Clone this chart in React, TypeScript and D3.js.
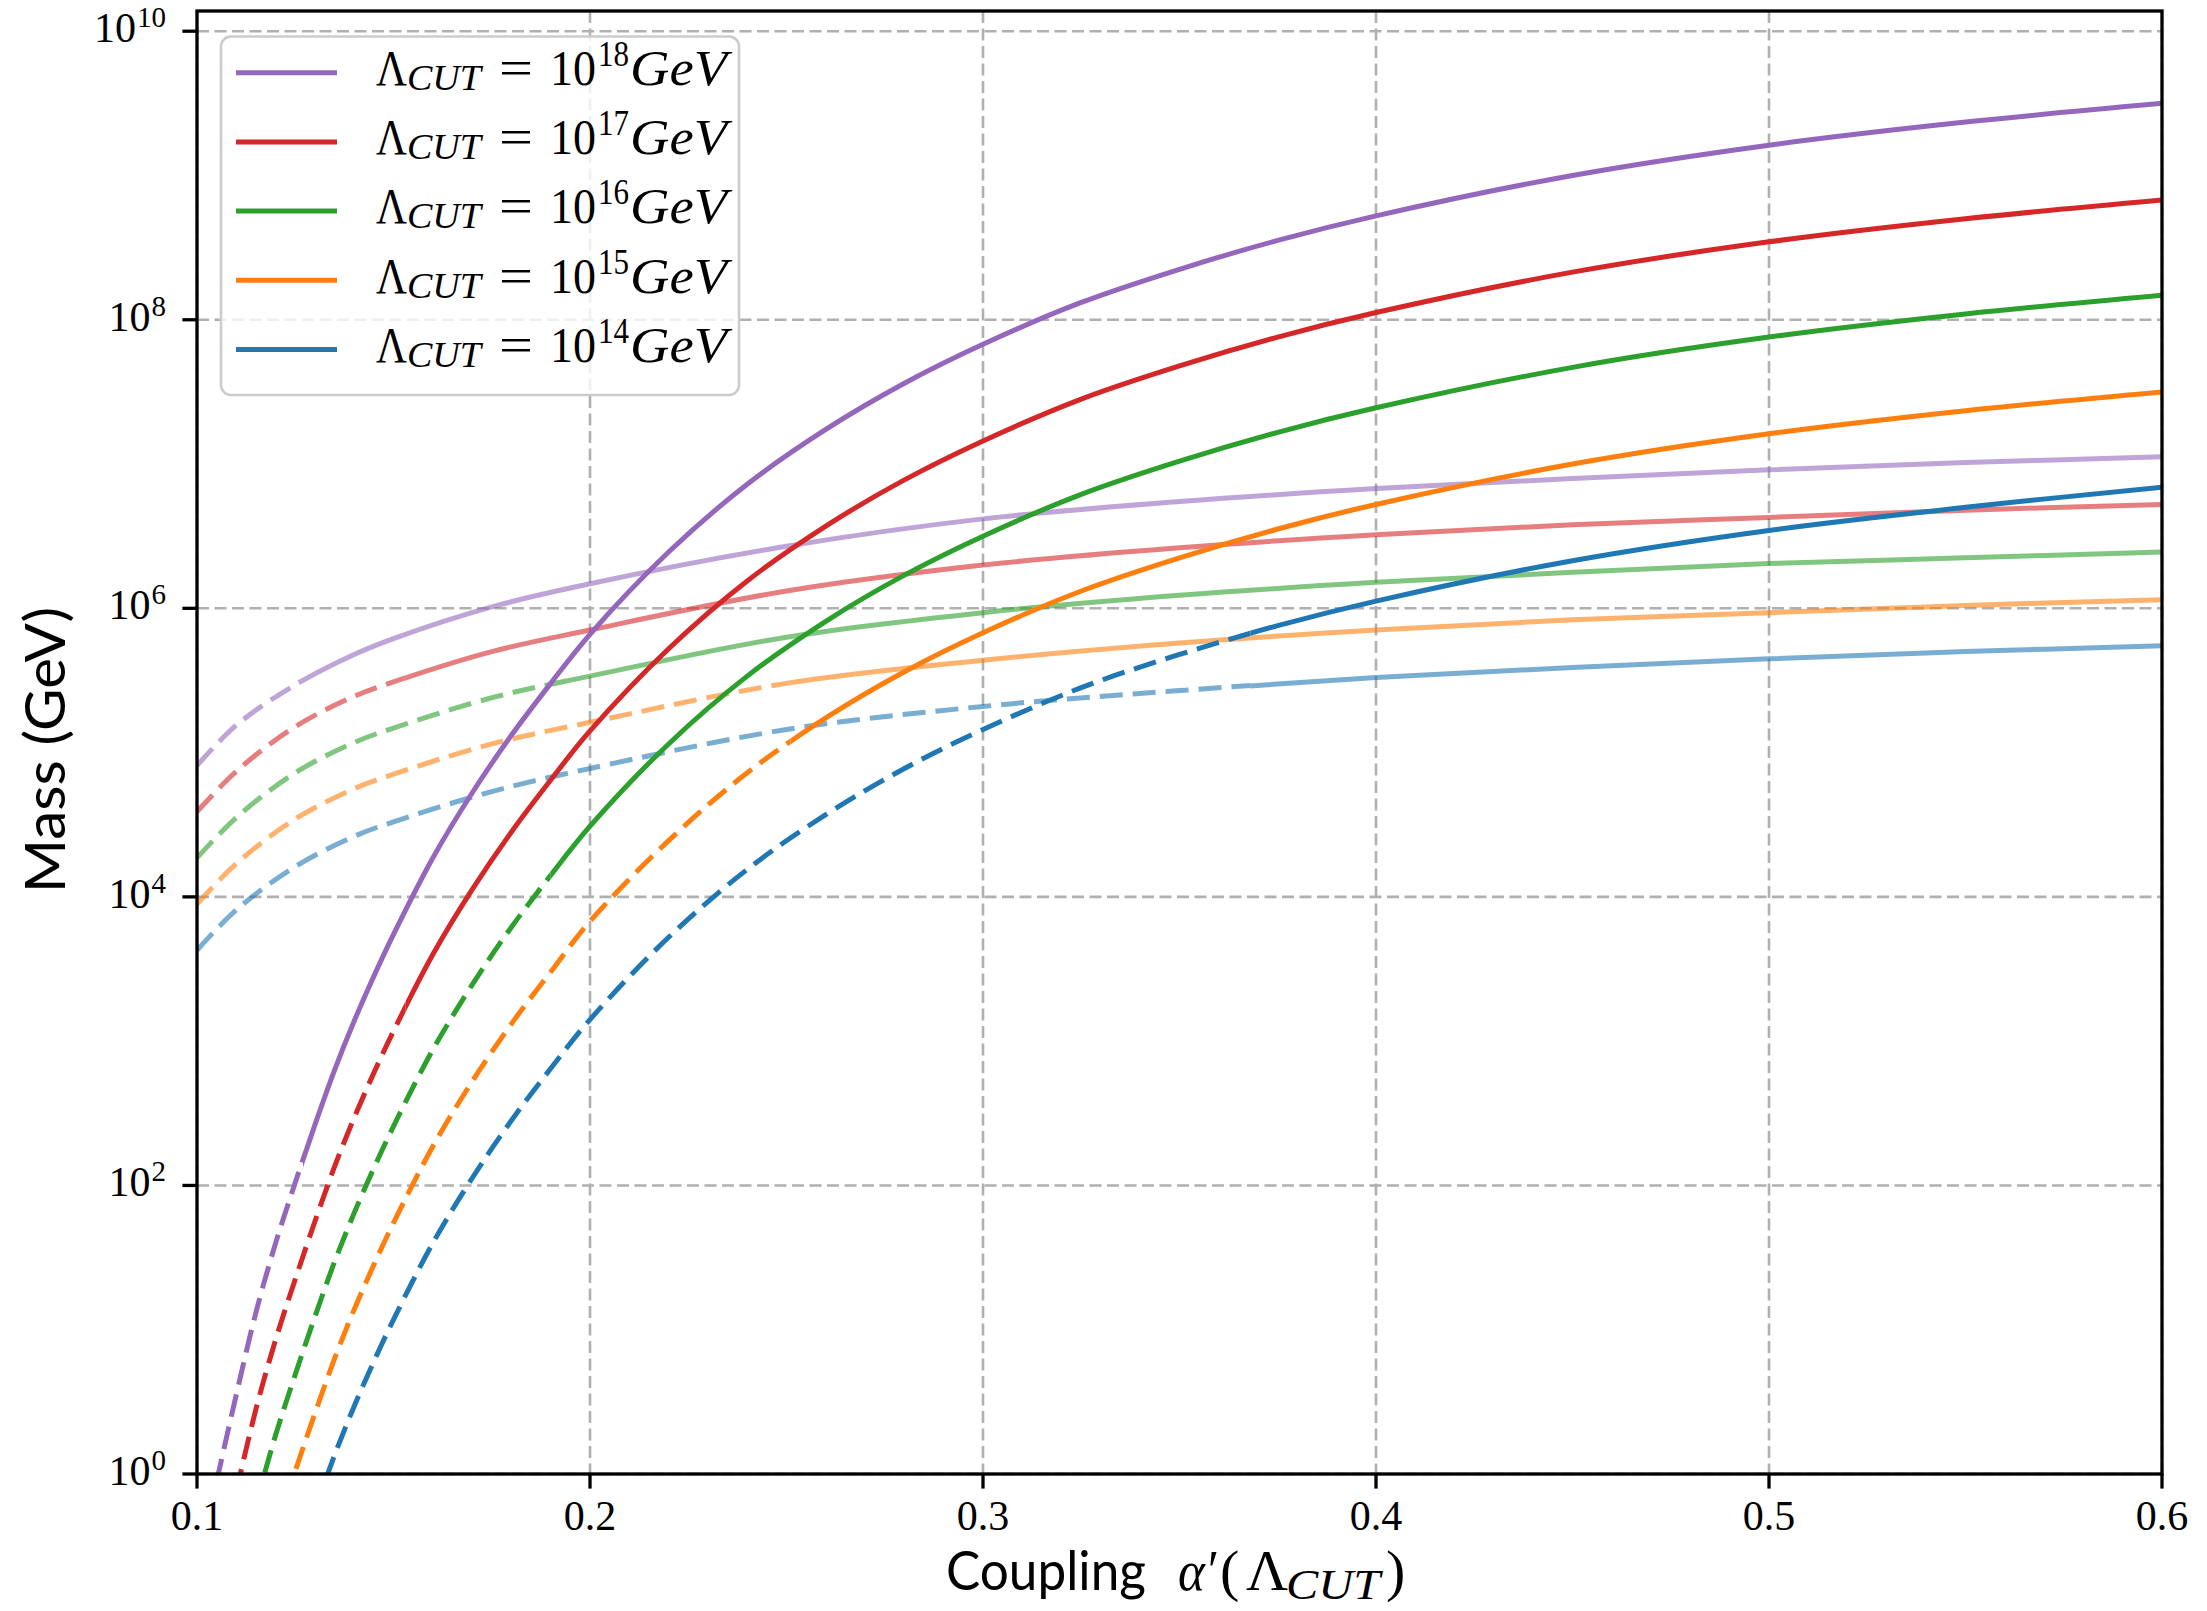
import React from 'react';
import * as d3 from 'd3';

// ---- data ----
const cutExponents = [18, 17, 16, 15, 14];
const seriesColors = ['#9467bd', '#d62728', '#2ca02c', '#ff7f0e', '#1f77b4'];
// coupling above which both curves of a series are drawn solid
const solidFromAlpha = [0.127, 0.153, 0.19, 0.251, 0.368];

// steep family (full opacity): log10(Mass/GeV)
const alphaSteep = [0.105, 0.11, 0.115, 0.12, 0.125, 0.13, 0.135, 0.14, 0.145, 0.15, 0.16, 0.17, 0.18, 0.19, 0.2, 0.22, 0.24, 0.26, 0.28, 0.3, 0.325, 0.35, 0.375, 0.4, 0.45, 0.5, 0.55, 0.6];
const logMassSteep18 = [-0.05, 0.55, 1.12, 1.6, 2.02, 2.42, 2.8, 3.14, 3.45, 3.74, 4.27, 4.72, 5.12, 5.48, 5.82, 6.39, 6.86, 7.24, 7.56, 7.83, 8.12, 8.35, 8.55, 8.72, 9.0, 9.21, 9.37, 9.5];
const logMassSteep17 = [null, -0.12, 0.45, 0.93, 1.35, 1.75, 2.13, 2.47, 2.78, 3.07, 3.6, 4.05, 4.45, 4.81, 5.15, 5.72, 6.19, 6.57, 6.89, 7.16, 7.45, 7.68, 7.88, 8.05, 8.33, 8.54, 8.7, 8.83];
const logMassSteep16 = [null, null, -0.21, 0.27, 0.69, 1.09, 1.47, 1.81, 2.12, 2.41, 2.94, 3.39, 3.79, 4.15, 4.49, 5.06, 5.53, 5.91, 6.23, 6.5, 6.79, 7.02, 7.22, 7.39, 7.67, 7.88, 8.04, 8.17];
const logMassSteep15 = [null, null, null, -0.4, 0.02, 0.42, 0.8, 1.14, 1.45, 1.74, 2.27, 2.72, 3.12, 3.48, 3.83, 4.39, 4.86, 5.24, 5.56, 5.83, 6.12, 6.35, 6.55, 6.72, 7.0, 7.21, 7.37, 7.5];
const logMassSteep14 = [null, null, null, null, null, -0.25, 0.13, 0.47, 0.78, 1.07, 1.6, 2.05, 2.45, 2.81, 3.15, 3.72, 4.19, 4.57, 4.89, 5.16, 5.45, 5.68, 5.88, 6.05, 6.33, 6.54, 6.7, 6.84];

// shallow family (translucent): log10(Mass/GeV)
const alphaShallow = [0.1, 0.11, 0.125, 0.14, 0.15, 0.175, 0.2, 0.25, 0.3, 0.35, 0.4, 0.45, 0.5, 0.55, 0.6];
const logMassShallow18 = [4.91, 5.19, 5.47, 5.68, 5.79, 6.01, 6.17, 6.43, 6.62, 6.74, 6.83, 6.9, 6.96, 7.01, 7.05];
const logMassShallow17 = [4.59, 4.87, 5.18, 5.39, 5.49, 5.7, 5.85, 6.12, 6.3, 6.42, 6.51, 6.58, 6.63, 6.68, 6.72];
const logMassShallow16 = [4.27, 4.55, 4.86, 5.07, 5.17, 5.38, 5.53, 5.8, 5.97, 6.09, 6.18, 6.25, 6.31, 6.35, 6.39];
const logMassShallow15 = [3.95, 4.23, 4.54, 4.75, 4.85, 5.06, 5.21, 5.48, 5.64, 5.76, 5.85, 5.92, 5.97, 6.02, 6.06];
const logMassShallow14 = [3.63, 3.91, 4.21, 4.42, 4.52, 4.73, 4.89, 5.16, 5.32, 5.43, 5.52, 5.59, 5.65, 5.7, 5.74];

const xTicks = [0.1, 0.2, 0.3, 0.4, 0.5, 0.6];
const yTickExponents = [0, 2, 4, 6, 8, 10];

const steepSeries = [logMassSteep18, logMassSteep17, logMassSteep16, logMassSteep15, logMassSteep14];
const shallowSeries = [logMassShallow18, logMassShallow17, logMassShallow16, logMassShallow15, logMassShallow14];

const SERIF = "'Liberation Serif', 'DejaVu Serif', serif";
const SANS = "Lato, 'Open Sans', 'DejaVu Sans', sans-serif";

type PieceProps = {
  x: number; y: number; text: string; size: number; family?: string;
  italic?: boolean; tl?: number; anchor?: string; rotate?: number;
};
function Piece({ x, y, text, size, family = SERIF, italic, tl, anchor, rotate }: PieceProps) {
  return (
    <text
      x={x}
      y={y}
      fontSize={size}
      fontFamily={family}
      fontStyle={italic ? 'italic' : 'normal'}
      textLength={tl}
      lengthAdjust={tl ? 'spacingAndGlyphs' : undefined}
      textAnchor={anchor || 'start'}
      fill="#000"
      transform={rotate ? `rotate(${rotate} ${x} ${y})` : undefined}
    >
      {text}
    </text>
  );
}

export default function App() {
  const W = 2207;
  const H = 1611;
  const left = 197, right = 2162, top = 11, bottom = 1474;

  const x = d3.scaleLinear().domain([0.1, 0.6]).range([left, right]);
  const y = d3.scaleLog().domain([1, Math.pow(10, 10.14)]).range([bottom, top]);

  const line = d3
    .line<[number, number]>()
    .x((d) => x(d[0]))
    .y((d) => y(Math.pow(10, d[1])))
    .curve(d3.curveCatmullRom.alpha(0.5));

  const lw = 5;
  const dash = '23,10';

  const curvePaths = (alphas: number[], vals: (number | null)[]) =>
    line(alphas.map((a, j) => [a, vals[j]] as [number, number | null]).filter((d) => d[1] !== null) as [number, number][]) || '';

  const legendRowY = (i: number) => 72.7 + i * 69.2;

  return (
    <svg width={W} height={H} style={{ position: 'absolute', left: 0, top: 0, background: '#fff' }}>
      <defs>
        <clipPath id="plotclip">
          <rect x={left} y={top} width={right - left} height={bottom - top} />
        </clipPath>
        {solidFromAlpha.map((a, i) => (
          <React.Fragment key={i}>
            <clipPath id={`dash-${i}`}>
              <rect x={left} y={top} width={x(a) - left} height={bottom - top} />
            </clipPath>
            <clipPath id={`solid-${i}`}>
              <rect x={x(a)} y={top} width={right - x(a)} height={bottom - top} />
            </clipPath>
          </React.Fragment>
        ))}
      </defs>
      <rect x={0} y={0} width={W} height={H} fill="#fff" />

      {/* grid */}
      <g stroke="#b0b0b0" strokeWidth={2.6} strokeDasharray="12,5.5" fill="none">
        {xTicks.map((t) => (
          <line key={`gx${t}`} x1={x(t)} x2={x(t)} y1={top} y2={bottom} />
        ))}
        {yTickExponents.map((e) => (
          <line key={`gy${e}`} x1={left} x2={right} y1={y(Math.pow(10, e))} y2={y(Math.pow(10, e))} />
        ))}
      </g>

      {/* curves */}
      <g clipPath="url(#plotclip)" fill="none">
        {shallowSeries.map((vals, i) => {
          const d = curvePaths(alphaShallow, vals);
          return (
            <g key={`sh${i}`} stroke={seriesColors[i]} strokeWidth={lw} strokeOpacity={0.6}>
              <path d={d} clipPath={`url(#dash-${i})`} strokeDasharray={dash} />
              <path d={d} clipPath={`url(#solid-${i})`} />
            </g>
          );
        })}
        {steepSeries.map((vals, i) => {
          const d = curvePaths(alphaSteep, vals);
          return (
            <g key={`st${i}`} stroke={seriesColors[i]} strokeWidth={lw}>
              <path d={d} clipPath={`url(#dash-${i})`} strokeDasharray={dash} />
              <path d={d} clipPath={`url(#solid-${i})`} />
            </g>
          );
        })}
      </g>

      {/* spines */}
      <rect x={left} y={top} width={right - left} height={bottom - top} fill="none" stroke="#000" strokeWidth={3.3} />

      {/* x ticks */}
      {xTicks.map((t) => (
        <g key={`xt${t}`}>
          <line x1={x(t)} x2={x(t)} y1={bottom} y2={bottom + 14.6} stroke="#000" strokeWidth={3.3} />
          <Piece x={x(t)} y={1530} text={d3.format('.1f')(t)} size={42} anchor="middle" />
        </g>
      ))}

      {/* y ticks */}
      {yTickExponents.map((e) => {
        const ty = y(Math.pow(10, e));
        const sup = String(e);
        const supW = sup.length * 14.5;
        return (
          <g key={`yt${e}`}>
            <line x1={left - 14.6} x2={left} y1={ty} y2={ty} stroke="#000" strokeWidth={3.3} />
            <Piece x={166 - supW - 1} y={ty + 11} text="10" size={42} anchor="end" />
            <Piece x={166} y={ty - 4} text={sup} size={29} anchor="end" />
          </g>
        );
      })}

      {/* axis labels */}
      <Piece x={65} y={750} text="Mass (GeV)" size={56} family={SANS} anchor="middle" rotate={-90} tl={286} />
      <Piece x={946} y={1590} text="Coupling" size={55} family={SANS} tl={200} />
      <Piece x={1178} y={1590} text="α′" size={58} italic tl={38} />
      <Piece x={1220} y={1590} text="(" size={58} />
      <Piece x={1246} y={1590} text="Λ" size={58} />
      <Piece x={1286} y={1599} text="CUT" size={42} italic tl={94} />
      <Piece x={1386} y={1590} text=")" size={58} />

      {/* legend */}
      <rect x={221} y={36.5} width={518} height={358.5} rx={10} ry={10} fill="#fff" fillOpacity={0.8} stroke="#cccccc" strokeWidth={2.6} />
      {cutExponents.map((ex, i) => {
        const cy = legendRowY(i);
        const by = cy + 12.3;
        return (
          <g key={`lg${ex}`}>
            <line x1={236} x2={337} y1={cy} y2={cy} stroke={seriesColors[i]} strokeWidth={lw} />
            <Piece x={376} y={by} text="Λ" size={50} tl={31} />
            <Piece x={407} y={by + 5} text="CUT" size={35} italic tl={74} />
            <Piece x={499} y={by} text="=" size={50} tl={34} />
            <Piece x={550} y={by} text="10" size={50} tl={46} />
            <Piece x={598} y={by - 19} text={String(ex)} size={35} tl={31} />
            <Piece x={630} y={by} text="GeV" size={50} italic tl={97} />
          </g>
        );
      })}
    </svg>
  );
}
